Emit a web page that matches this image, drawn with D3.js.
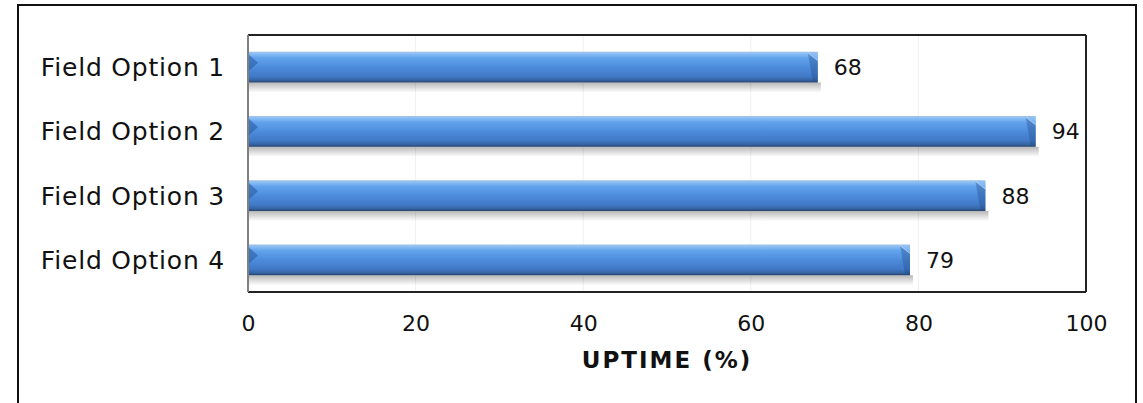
<!DOCTYPE html>
<html>
<head>
<meta charset="utf-8">
<script src="https://cdn.jsdelivr.net/npm/d3@7"></script>
<style>
  html, body { margin: 0; padding: 0; background: #fff; }
  svg { display: block; font-family: "DejaVu Sans", Verdana, sans-serif; }
</style>
</head>
<body>
<svg id="chart" width="1143" height="403"></svg>
<script>
// Uptime per field option (%)
const categories = ["Field Option 1", "Field Option 2", "Field Option 3", "Field Option 4"];
const uptime = [68, 94, 88, 79];
const xTicks = [0, 20, 40, 60, 80, 100];
const axisTitle = "UPTIME (%)";

const svg = d3.select("#chart");
const plot = { left: 248, right: 1086, top: 35, bottom: 292 };

// outer frame (open at the bottom edge of the canvas)
svg.append("rect")
  .attr("x", 18).attr("y", 5).attr("width", 1118).attr("height", 420)
  .attr("fill", "#fff").attr("stroke", "#111").attr("stroke-width", 2);

const x = d3.scaleLinear().domain([0, 100]).range([plot.left, plot.right]);
const y = d3.scaleBand().domain(categories).range([plot.top, plot.bottom]).paddingInner(0.52).paddingOuter(0.26);

const defs = svg.append("defs");
const g1 = defs.append("linearGradient").attr("id", "barFill")
  .attr("x1", 0).attr("y1", 0).attr("x2", 0).attr("y2", 1);
[[0, "#a9c3e4"], [0.06, "#8cc0f6"], [0.2, "#62a3ec"], [0.5, "#4d8cdb"],
 [0.8, "#4079c6"], [0.92, "#3565a5"], [1, "#26426a"]]
  .forEach(([o, c]) => g1.append("stop").attr("offset", o).attr("stop-color", c));

const g2 = defs.append("linearGradient").attr("id", "shadowFill")
  .attr("x1", 0).attr("y1", 0).attr("x2", 0).attr("y2", 1);
g2.append("stop").attr("offset", 0).attr("stop-color", "#000").attr("stop-opacity", 0.28);
g2.append("stop").attr("offset", 1).attr("stop-color", "#000").attr("stop-opacity", 0);

// faint vertical gridlines
svg.append("g").selectAll("line")
  .data(xTicks.filter(t => t > 0 && t < 100))
  .join("line")
  .attr("x1", d => x(d)).attr("x2", d => x(d))
  .attr("y1", plot.top).attr("y2", plot.bottom)
  .attr("stroke", "#f0f0f0").attr("stroke-width", 1);

// bars
const bars = svg.append("g").selectAll("g").data(categories).join("g");
bars.each(function (c, i) {
  const gg = d3.select(this);
  const x0 = x(0), x1 = x(uptime[i]);
  const y0 = y(c), h = y.bandwidth(), y1 = y0 + h;
  // soft drop shadow under the bar
  gg.append("rect").attr("x", x0).attr("y", y1).attr("width", x1 - x0 + 3).attr("height", 10)
    .attr("fill", "url(#shadowFill)");
  gg.append("rect").attr("x", x0).attr("y", y0).attr("width", x1 - x0).attr("height", h)
    .attr("fill", "url(#barFill)");
  // left bevel
  gg.append("path")
    .attr("d", `M${x0},${y0 + 2} L${x0 + 10},${y0 + 11} L${x0},${y0 + 20} Z`)
    .attr("fill", "#2a5da3").attr("opacity", 0.6);
  // right bevel
  gg.append("path")
    .attr("d", `M${x1 - 10},${y0 + 1} L${x1},${y0 + 9} L${x1},${y1 - 1} L${x1 - 5},${y1 - 1} Z`)
    .attr("fill", "#1f4a86").attr("opacity", 0.35);
  gg.append("path")
    .attr("d", `M${x1 - 10},${y0 + 1} L${x1},${y0 + 1} L${x1},${y0 + 9} Z`)
    .attr("fill", "#8fc0f5").attr("opacity", 0.5);
  gg.append("line").attr("x1", x1 - 10).attr("y1", y0 + 1).attr("x2", x1).attr("y2", y0 + 9)
    .attr("stroke", "#c4dcf7").attr("stroke-width", 1).attr("opacity", 0.7);
});

// value labels
svg.append("g").selectAll("text").data(categories).join("text")
  .attr("x", (c, i) => x(uptime[i]) + 16)
  .attr("y", c => y(c) + y.bandwidth() / 2)
  .attr("dy", "0.36em")
  .attr("font-size", 22).attr("fill", "#111")
  .text((c, i) => uptime[i]);

// plot frame: top/right/bottom dark, left axis grey
svg.append("line").attr("x1", plot.left).attr("x2", plot.right).attr("y1", plot.top).attr("y2", plot.top)
  .attr("stroke", "#222").attr("stroke-width", 2);
svg.append("line").attr("x1", plot.right).attr("x2", plot.right).attr("y1", plot.top).attr("y2", plot.bottom)
  .attr("stroke", "#222").attr("stroke-width", 2);
svg.append("line").attr("x1", plot.left).attr("x2", plot.right).attr("y1", plot.bottom).attr("y2", plot.bottom)
  .attr("stroke", "#222").attr("stroke-width", 2);
svg.append("line").attr("x1", plot.left).attr("x2", plot.left).attr("y1", plot.top).attr("y2", plot.bottom)
  .attr("stroke", "#808080").attr("stroke-width", 2);

// x axis tick labels
const xAxis = d3.axisBottom(x).tickValues(xTicks).tickSize(0).tickPadding(0).tickFormat(d3.format("d"));
const xa = svg.append("g").attr("transform", `translate(0,${plot.bottom})`).call(xAxis);
xa.select(".domain").remove();
xa.selectAll("text").attr("font-size", 22).attr("font-family", "DejaVu Sans, Verdana, sans-serif")
  .attr("fill", "#111").attr("y", 39).attr("dy", 0);

// category labels
const yAxis = d3.axisLeft(y).tickSize(0).tickPadding(0);
const ya = svg.append("g").attr("transform", `translate(225,0)`).call(yAxis);
ya.select(".domain").remove();
ya.selectAll("text").attr("font-size", 25).attr("letter-spacing", 0.8)
  .attr("font-family", "DejaVu Sans, Verdana, sans-serif")
  .attr("fill", "#111").attr("x", 0).attr("dy", "0.36em");

// axis title
svg.append("text").attr("x", (plot.left + plot.right) / 2).attr("y", 368)
  .attr("text-anchor", "middle").attr("font-size", 23).attr("letter-spacing", 2)
  .attr("font-weight", "bold").attr("fill", "#111")
  .text(axisTitle);
</script>
</body>
</html>
